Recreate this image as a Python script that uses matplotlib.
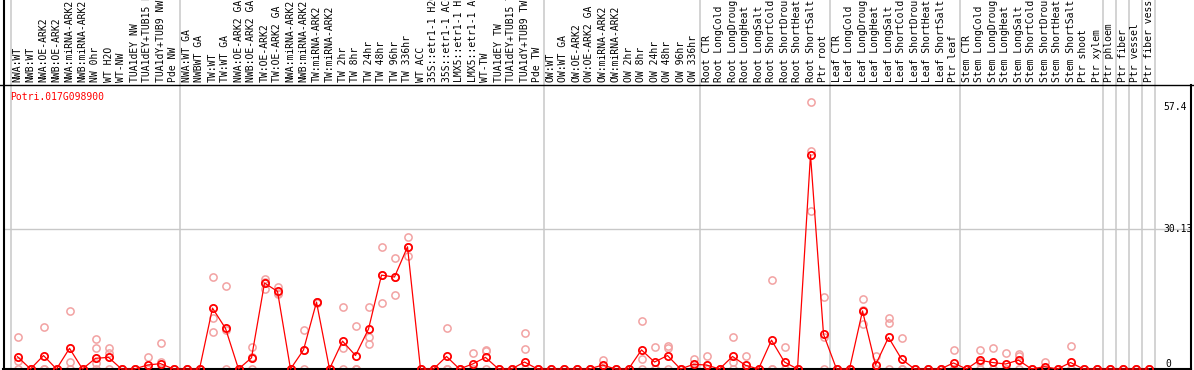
import matplotlib
matplotlib.use('Agg')
import matplotlib.pyplot as plt
import matplotlib.transforms as mtransforms
from matplotlib.lines import Line2D

gene = 'Potri.017G098900'

# column labels, grouped as in the viewer
labels_nw = ['NWA:WT', 'NWB:WT', 'NWA:OE-ARK2', 'NWB:OE-ARK2', 'NWA:miRNA-ARK2',
             'NWB:miRNA-ARK2', 'NW 0hr', 'WT H2O', 'WT-NW', 'TUA1dEY NW',
             'TUA1dEY+TUB15 NW', 'TUA1dY+TUB9 NW', 'Pde NW']
labels_tw = ['NWA:WT GA', 'NWBWT GA', 'TW:WT', 'TW:WT GA', 'NWA:OE-ARK2 GA',
             'NWB:OE-ARK2 GA', 'TW:OE-ARK2', 'TW:OE-ARK2 GA', 'NWA:miRNA-ARK2',
             'NWB:miRNA-ARK2', 'TW:miRNA-ARK2', 'TW:miRNA-ARK2', 'TW 2hr', 'TW 8hr',
             'TW 24hr', 'TW 48hr', 'TW 96hr', 'TW 336hr', 'WT ACC',
             '35S::etr1-1 H2O', '35S::etr1-1 ACC', 'LMX5::etr1-1 H2O',
             'LMX5::etr1-1 ACC', 'WT-TW', 'TUA1dEY TW', 'TUA1dEY+TUB15 TW',
             'TUA1dY+TUB9 TW', 'Pde TW']
labels_ow = ['OW:WT', 'OW:WT GA', 'OW:OE-ARK2', 'OW:OE-ARK2 GA', 'OW:miRNA-ARK2',
             'OW:miRNA-ARK2', 'OW 2hr', 'OW 8hr', 'OW 24hr', 'OW 48hr', 'OW 96hr',
             'OW 336hr']
stress = ['CTR', 'LongCold', 'LongDrought', 'LongHeat', 'LongSalt',
          'ShortCold', 'ShortDrought', 'ShortHeat', 'ShortSalt']
labels_root = ['Root ' + s for s in stress] + ['Ptr root']
labels_leaf = ['Leaf ' + s for s in stress] + ['Ptr leaf']
labels_stem = ['Stem ' + s for s in stress] + ['Ptr shoot', 'Ptr xylem']
labels_ptr = ['Ptr phloem', 'Ptr fiber', 'Ptr vessel', 'Ptr fiber vessel']

groups = [labels_nw, labels_tw, labels_ow, labels_root, labels_leaf,
          labels_stem] + [[l] for l in labels_ptr]
labels = [l for g in groups for l in g]

# mean expression (red line)
means = [2.65, 0, 2.9, 0, 4.45, 0, 2.3, 2.5, 0, 0, 0.86, 1.15, 0,
         0, 0, 13.1, 8.75, 0, 2.4, 18.5, 16.7, 0, 4.1, 14.4, 0, 6.0, 2.9, 8.6,
         20.2, 19.8, 26.3, 0, 0, 2.7, 0, 1.07, 2.5, 0, 0, 1.5, 0,
         0, 0, 0, 0, 0.86, 0, 0, 4.1, 1.5, 2.9, 0, 1.0,
         0.86, 0, 2.7, 0.8, 0, 6.2, 1.5, 0, 46.1, 7.5,
         0, 0, 12.5, 0.86, 6.8, 2.15, 0, 0, 0, 1.3,
         0, 1.9, 1.4, 1.07, 1.9, 0, 0.5, 0, 1.4, 0, 0,
         0, 0, 0, 0]

# individual replicates (pink circles)
reps = [[6.8, 1.7, 0], [0, 0, 0], [9.0, 0, 0], [0, 0, 0], [12.4, 1.4, 0], [0, 0, 0],
        [6.4, 4.45, 1.2, 0], [4.45, 3.4, 0], [0, 0, 0], [0, 0, 0], [2.5, 0, 0],
        [5.7, 1.5, 0], [0, 0, 0],
        [0, 0, 0], [0, 0, 0], [19.9, 11.0, 7.9], [17.8, 8.5, 0], [0, 0, 0],
        [4.7, 2.5, 0], [19.4, 17.3, 18.8], [17.7, 16.1, 16.3], [0, 0, 0],
        [8.4, 4.0, 0], [14.2, 14.5, 14.5], [0, 0, 0], [13.3, 4.45, 0], [9.2, 0, 0],
        [13.3, 6.8, 5.3], [26.2, 14.1, 20.3], [23.8, 15.9, 19.7], [28.4, 24.3, 26.2],
        [0, 0, 0], [0, 0, 0], [8.75, 0, 0], [0, 0, 0], [3.4, 0, 0], [4.1, 3.8, 0],
        [0, 0, 0], [0, 0, 0], [7.7, 4.3, 0], [0, 0, 0],
        [0, 0, 0], [0, 0, 0], [0, 0, 0], [0, 0, 0], [1.9, 0, 0], [0, 0, 0], [0, 0, 0],
        [10.3, 2.15, 0], [4.7, 0, 0], [4.95, 4.45, 0], [0, 0, 0], [2.15, 0, 0],
        [2.9, 0, 0], [0, 0, 0], [6.8, 1.5, 0], [2.9, 0, 0], [0, 0, 0], [19.1, 0, 0],
        [4.7, 0, 0], [0, 0, 0], [57.4, 34.0, 47.0], [15.5, 6.8, 0],
        [0, 0, 0], [0, 0, 0], [15.0, 9.75, 12.6], [2.8, 0, 0], [11.0, 9.8, 0],
        [6.6, 0, 0], [0, 0, 0], [0, 0, 0], [0, 0, 0], [4.1, 0, 0],
        [0, 0, 0], [4.1, 1.6, 0], [4.45, 0, 0], [3.4, 0, 0], [3.2, 2.8, 0], [0, 0, 0],
        [1.5, 0, 0], [0, 0, 0], [4.9, 0, 0], [0, 0, 0], [0, 0, 0],
        [0, 0, 0], [0, 0, 0], [0, 0, 0], [0, 0, 0]]

ymax_label = 57.4
ymid_label = 30.13

W, H = 1194, 370
fig = plt.figure(figsize=(W / 100, H / 100), dpi=100)
ax = fig.add_axes([3 / W, 1 - 369 / H, (1191 - 3) / W, (369 - 85) / H])
x0px, step = 17.5, 13.0
ax.set_xlim((3 - x0px) / step, (1191 - x0px) / step)
ax.set_ylim(0, (369 - 85) / 4.646)
ax.set_xticks([])
ax.set_yticks([])
ax.spines['top'].set_visible(False)
ax.spines['left'].set_visible(False)
ax.spines['right'].set_linewidth(1.5)
ax.spines['bottom'].set_linewidth(1.5)

mono = 'DejaVu Sans Mono'
fs = 7

# group separators
seps = [-0.5]
n = 0
for g in groups:
    n += len(g)
    seps.append(n - 0.5)
for s in seps:
    ax.axvline(s, ymin=0, ymax=369 / 284, color='#c8c8c8', lw=1.1,
               clip_on=False, zorder=1)
ax.axhline(ymid_label, color='#c8c8c8', lw=1, zorder=1)

# header line and left border
fig.add_artist(Line2D([0, 1], [1 - 84.5 / H] * 2, color='black', lw=1))
fig.add_artist(Line2D([3.5 / W] * 2, [0, 1], color='black', lw=1.5))

# column labels
trans = mtransforms.blended_transform_factory(ax.transData, ax.transAxes)
for i, lab in enumerate(labels):
    ax.text(i, 1 + 3 / 284, lab, transform=trans, rotation=90, ha='center',
            va='bottom', fontsize=fs, family=mono, clip_on=False)

# replicates
for i, r in enumerate(reps):
    ax.plot([i] * len(r), r, 'o', mfc='none', mec='#f2a2a2', ms=5.2, mew=1.1,
            clip_on=False, zorder=2)

# means
xs = list(range(len(means)))
ax.plot(xs, means, '-', color='red', lw=0.9, zorder=3, clip_on=False)
ax.plot(xs, means, 'o', mfc='none', mec='red', ms=5.2, mew=1.3, zorder=4,
        clip_on=False)

ax.text((10 - 3) / 1188, (369 - 97) / 284, gene, color='red', fontsize=fs,
        family=mono, transform=ax.transAxes, ha='left', va='center')

xl = (1163 - x0px) / step
ax.text(xl, ymax_label, str(ymax_label), fontsize=fs, family=mono, ha='left', va='top')
ax.text(xl, ymid_label, str(ymid_label), fontsize=fs, family=mono, ha='left', va='center')
ax.text(xl + 0.2, 0, '0', fontsize=fs, family=mono, ha='left', va='bottom')

fig.savefig('out.png', dpi=100)
